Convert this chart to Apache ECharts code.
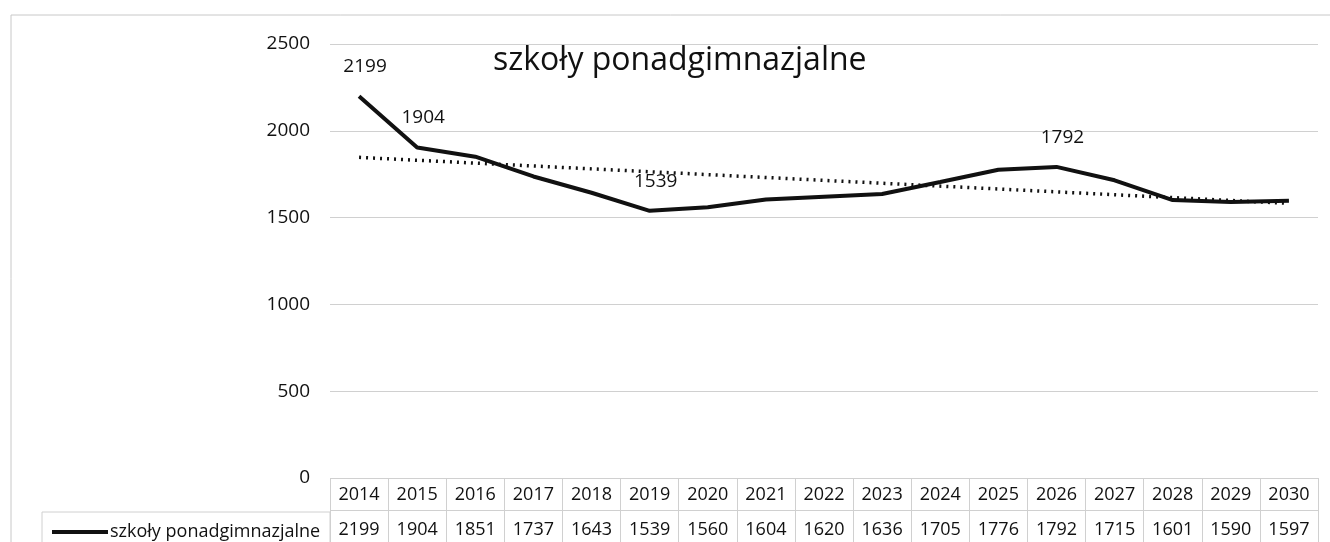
<!DOCTYPE html>
<html>
<head>
<meta charset="utf-8">
<title>szkoły ponadgimnazjalne</title>
<script src="https://cdn.jsdelivr.net/npm/echarts@6/dist/echarts.min.js"></script>
<style>
  html, body { margin: 0; padding: 0; background: #fff; }
  #chart { width: 1330px; height: 542px; }
</style>
</head>
<body>
<div id="chart"></div>
<script>
  // dane
  const years = ['2014', '2015', '2016', '2017', '2018', '2019', '2020', '2021', '2022',
    '2023', '2024', '2025', '2026', '2027', '2028', '2029', '2030'];
  const pupils = [2199, 1904, 1851, 1737, 1643, 1539, 1560, 1604, 1620,
    1636, 1705, 1776, 1792, 1715, 1601, 1590, 1597];
  const labelledYears = ['2014', '2015', '2019', '2026'];
  // linia trendu: wartości na końcach
  const trendEnds = [1847, 1582];
  const yTicks = [0, 500, 1000, 1500, 2000, 2500];
  const seriesName = 'szkoły ponadgimnazjalne';

  const font = '"Open Sans", "Noto Sans", sans-serif';
  const gridColor = '#d0d0d0';
  const ink = '#111';

  const lineData = pupils.map((v, i) => ({
    value: v,
    label: { show: labelledYears.indexOf(years[i]) !== -1 }
  }));
  const trendData = years.map((y, i) =>
    i === 0 ? trendEnds[0] : (i === years.length - 1 ? trendEnds[1] : null));

  const chart = echarts.init(document.getElementById('chart'));
  chart.setOption({
    animation: false,
    textStyle: { fontFamily: font },
    title: {
      text: seriesName,
      left: 488,
      top: 40,
      textStyle: { fontSize: 32, fontWeight: 'normal', color: ink, fontFamily: font }
    },
    legend: {
      data: [seriesName],
      left: 47,
      top: 518,
      icon: 'rect',
      itemWidth: 56,
      itemHeight: 4,
      itemGap: 2,
      textStyle: { fontSize: 18, color: ink, fontFamily: font, padding: [0, 0, 0, -3] }
    },
    grid: [
      { left: 330, right: 12, top: 44, bottom: 64 },
      { left: 330, right: 12, top: 478, height: 68 }
    ],
    xAxis: [
      {
        type: 'category', data: years, gridIndex: 0, boundaryGap: true,
        axisLine: { show: false }, axisTick: { show: false }, axisLabel: { show: false }
      },
      {
        type: 'category', data: years, gridIndex: 1, position: 'top', boundaryGap: true,
        axisLine: { show: false }, axisTick: { show: false },
        splitLine: { show: true, lineStyle: { color: gridColor, width: 1 } },
        axisLabel: { inside: true, margin: 8, fontSize: 18, color: ink, verticalAlign: 'top', interval: 0 }
      },
      {
        type: 'category', data: years, gridIndex: 1, position: 'bottom', boundaryGap: true,
        axisLine: { show: false }, axisTick: { show: false },
        axisLabel: {
          inside: true, margin: 3, fontSize: 18, color: ink, verticalAlign: 'bottom', interval: 0,
          formatter: (v, i) => String(pupils[i])
        }
      }
    ],
    yAxis: [
      {
        type: 'value', gridIndex: 0, min: yTicks[0], max: yTicks[yTicks.length - 1], interval: 500,
        axisLine: { show: false }, axisTick: { show: false },
        splitLine: { lineStyle: { color: gridColor, width: 1 } },
        axisLabel: { margin: 20, fontSize: 19, color: ink, formatter: v => String(v) }
      },
      {
        type: 'value', gridIndex: 1, min: 0, max: 2, interval: 1,
        axisLine: { show: false }, axisTick: { show: false }, axisLabel: { show: false },
        splitLine: { lineStyle: { color: gridColor, width: 1 } }
      }
    ],
    series: [
      {
        name: seriesName,
        type: 'line',
        xAxisIndex: 0, yAxisIndex: 0,
        data: lineData,
        symbol: 'circle',
        symbolSize: 0,
        showSymbol: true,
        color: '#111',
        lineStyle: { color: '#111', width: 4 },
        label: {
          position: 'top', distance: 20, offset: [6, 0],
          fontSize: 19, color: ink, fontFamily: font
        },
        z: 3
      },
      {
        name: 'trend',
        type: 'line',
        xAxisIndex: 0, yAxisIndex: 0,
        data: trendData,
        connectNulls: true,
        symbol: 'none',
        lineStyle: { color: '#111', width: 3.5, type: [2, 5] },
        z: 2
      }
    ],
    graphic: [
      { type: 'line', shape: { x1: 11, y1: 15, x2: 1330, y2: 15 }, style: { stroke: '#c8c8c8', lineWidth: 1 } },
      { type: 'line', shape: { x1: 11, y1: 15, x2: 11, y2: 542 }, style: { stroke: '#c8c8c8', lineWidth: 1 } },
      { type: 'rect', shape: { x: 42, y: 512, width: 288, height: 34 }, style: { fill: 'none', stroke: gridColor, lineWidth: 1 } }
    ]
  });
</script>
</body>
</html>
